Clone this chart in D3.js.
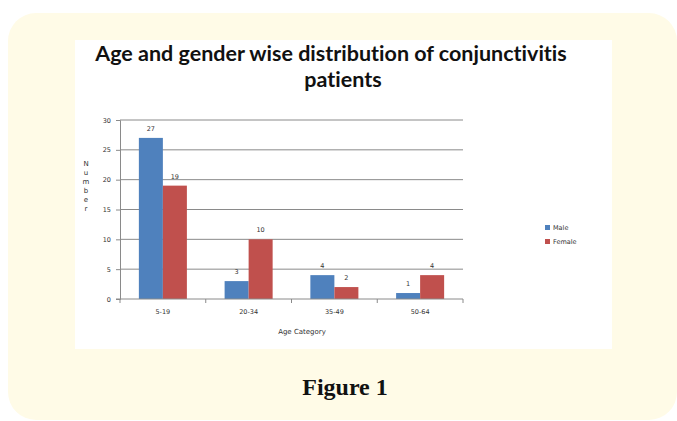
<!DOCTYPE html>
<html>
<head>
<meta charset="utf-8">
<script src="https://cdn.jsdelivr.net/npm/d3@7"></script>
<style>
  body { margin: 0; background: #fff; }
  svg { display: block; }
</style>
</head>
<body>
<div id="chart"></div>
<script>
// chart data
var categories = ['5-19', '20-34', '35-49', '50-64'];
var maleValues = [27, 3, 4, 1];
var femaleValues = [19, 10, 2, 4];
var seriesNames = ['Male', 'Female'];
var yTicks = [0, 5, 10, 15, 20, 25, 30];

var W = 677, H = 421;
var colors = ['#4f81bd', '#c0504d'];

var svg = d3.select('#chart').append('svg')
  .attr('width', W).attr('height', H);

// cream rounded panel
svg.append('rect')
  .attr('x', 8).attr('y', 13).attr('width', 669).attr('height', 407)
  .attr('rx', 28).attr('fill', '#fffbe7');

// white chart area
svg.append('rect')
  .attr('x', 75).attr('y', 40).attr('width', 537).attr('height', 309)
  .attr('fill', '#fff');

// title
var title = svg.append('text')
  .attr('text-anchor', 'middle')
  .style('font-family', 'Lato, sans-serif')
  .style('font-weight', 'bold')
  .style('font-size', '21.5px')
  .style('font-variant-ligatures', 'none')
  .attr('fill', '#111');
title.append('tspan').attr('x', 331).attr('y', 61).text('Age and gender wise distribution of conjunctivitis');
title.append('tspan').attr('x', 343).attr('y', 87).text('patients');

var margin = {left: 120, right: 463, top: 120, bottom: 299};

var x = d3.scaleBand().domain(categories).range([margin.left, margin.right]).paddingInner(0.44).paddingOuter(0.22);
var y = d3.scaleLinear().domain([0, 30]).range([margin.bottom, margin.top]);

// gridlines
svg.append('g').selectAll('line').data(yTicks.slice(1)).enter().append('line')
  .attr('x1', margin.left).attr('x2', margin.right)
  .attr('y1', function(d) { return y(d); }).attr('y2', function(d) { return y(d); })
  .attr('stroke', '#8a8a8a').attr('stroke-width', 1);

// y axis
var yAxis = d3.axisLeft(y).tickValues(yTicks).tickSize(4).tickPadding(5);
var gy = svg.append('g').attr('transform', 'translate(' + margin.left + ',0)').call(yAxis);
gy.select('.domain').attr('stroke', '#8a8a8a');
gy.selectAll('.tick line').attr('stroke', '#8a8a8a');
gy.selectAll('text').style('font-family', 'DejaVu Sans, sans-serif').style('font-size', '6.5px').attr('fill', '#333');

// bars
var sub = d3.scaleBand().domain(seriesNames).range([0, x.bandwidth()]);
var series = [maleValues, femaleValues];
series.forEach(function(vals, si) {
  var g = svg.append('g');
  g.selectAll('rect').data(vals).enter().append('rect')
    .attr('x', function(d, i) { return x(categories[i]) + sub(seriesNames[si]); })
    .attr('y', function(d) { return y(d); })
    .attr('width', sub.bandwidth())
    .attr('height', function(d) { return y(0) - y(d); })
    .attr('fill', colors[si]);
  g.selectAll('text').data(vals).enter().append('text')
    .attr('x', function(d, i) { return x(categories[i]) + sub(seriesNames[si]) + sub.bandwidth() / 2; })
    .attr('y', function(d) { return y(d) - 7; })
    .attr('text-anchor', 'middle')
    .style('font-family', 'DejaVu Sans, sans-serif').style('font-size', '6.5px')
    .attr('fill', '#333')
    .text(function(d) { return d; });
});

// x axis
var gx = svg.append('g').attr('transform', 'translate(0,' + margin.bottom + ')');
gx.append('line').attr('x1', margin.left - 4).attr('x2', margin.right)
  .attr('stroke', '#8a8a8a');
var step = (margin.right - margin.left) / categories.length;
gx.selectAll('.sep').data(d3.range(categories.length + 1)).enter().append('line')
  .attr('x1', function(d) { return margin.left + d * step; })
  .attr('x2', function(d) { return margin.left + d * step; })
  .attr('y1', 0).attr('y2', 4).attr('stroke', '#8a8a8a');
gx.selectAll('text').data(categories).enter().append('text')
  .attr('x', function(d) { return x(d) + x.bandwidth() / 2; })
  .attr('y', 15)
  .attr('text-anchor', 'middle')
  .style('font-family', 'DejaVu Sans, sans-serif').style('font-size', '6.5px')
  .attr('fill', '#333')
  .text(function(d) { return d; });

// axis titles
svg.append('text')
  .attr('x', 302).attr('y', 334).attr('text-anchor', 'middle')
  .style('font-family', 'DejaVu Sans, sans-serif').style('font-size', '7px')
  .attr('fill', '#333').text('Age Category');

var yTitle = 'Number'.split('');
svg.append('g').selectAll('text').data(yTitle).enter().append('text')
  .attr('x', 86).attr('y', function(d, i) { return 166 + i * 9; })
  .attr('text-anchor', 'middle')
  .style('font-family', 'DejaVu Sans, sans-serif').style('font-size', '7px')
  .attr('fill', '#333').text(function(d) { return d; });

// legend
var leg = svg.append('g').attr('transform', 'translate(545,225)');
seriesNames.forEach(function(n, i) {
  leg.append('rect').attr('x', 0).attr('y', i * 14).attr('width', 5).attr('height', 5).attr('fill', colors[i]);
  leg.append('text').attr('x', 8).attr('y', i * 14 + 5)
    .style('font-family', 'DejaVu Sans, sans-serif').style('font-size', '6.5px')
    .attr('fill', '#333').text(n);
});

// caption
svg.append('text')
  .attr('x', 345).attr('y', 395).attr('text-anchor', 'middle')
  .style('font-family', 'Liberation Serif, serif').style('font-weight', 'bold')
  .style('font-size', '24px').attr('fill', '#111')
  .text('Figure 1');
</script>
</body>
</html>
